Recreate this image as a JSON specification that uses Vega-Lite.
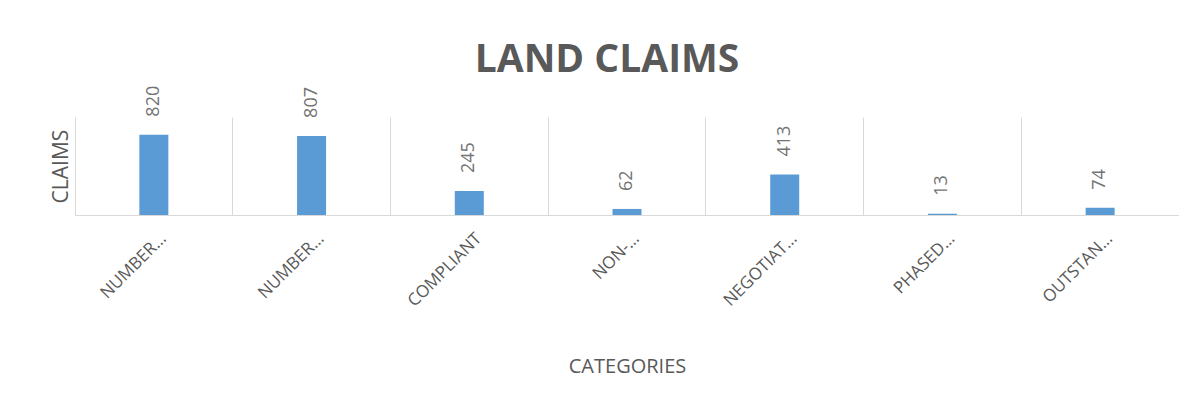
{
  "$schema": "https://vega.github.io/schema/vega-lite/v6.json",
  "width": 1104,
  "height": 98,
  "padding": {"left": 49, "top": 40, "right": 0, "bottom": 20},
  "background": "white",
  "config": {"view": {"stroke": null}, "font": "Open Sans"},
  "title": {"text": "LAND CLAIMS", "fontSize": 39, "font": "Open Sans", "fontWeight": "bold", "color": "#595959", "anchor": "middle", "offset": 6, "dx": -20},
  "data": {"values": [
    {"slot": 1, "category": "NUMBER…", "claims": 820},
    {"slot": 2, "category": "NUMBER…", "claims": 807},
    {"slot": 3, "category": "COMPLIANT", "claims": 245},
    {"slot": 4, "category": "NON-…", "claims": 62},
    {"slot": 5, "category": "NEGOTIAT…", "claims": 413},
    {"slot": 6, "category": "PHASED…", "claims": 13},
    {"slot": 7, "category": "OUTSTAN…", "claims": 74}
  ]},
  "encoding": {
    "x": {
      "field": "slot",
      "type": "ordinal",
      "scale": {"paddingInner": 0, "paddingOuter": 0},
      "axis": {
        "title": "CATEGORIES",
        "titleFontSize": 20,
        "titleFontWeight": "normal",
        "titleColor": "#595959",
        "titlePadding": 47,
        "labelExpr": "['NUMBER…','NUMBER…','COMPLIANT','NON-…','NEGOTIAT…','PHASED…','OUTSTAN…'][datum.value - 1]",
        "labelAngle": -45,
        "labelFontSize": 17,
        "labelColor": "#595959",
        "labelPadding": 15,
        "labelOffset": 4,
        "labelLimit": 300,
        "bandPosition": 0,
        "ticks": false,
        "grid": true,
        "gridColor": "#d9d9d9",
        "domainColor": "#d9d9d9"
      }
    }
  },
  "layer": [
    {
      "mark": {"type": "bar", "width": 29, "color": "#5B9BD5"},
      "encoding": {
        "y": {
          "field": "claims",
          "type": "quantitative",
          "scale": {"domain": [0, 1000]},
          "axis": {"title": "CLAIMS", "titleFontSize": 21, "titleFontWeight": "normal", "titleColor": "#595959", "titlePadding": 4, "labels": false, "ticks": false, "domain": false, "grid": false}
        }
      }
    },
    {
      "mark": {"type": "text", "angle": 270, "align": "left", "baseline": "middle", "dx": 18, "fontSize": 18, "color": "#737373"},
      "encoding": {
        "y": {
          "field": "claims",
          "type": "quantitative",
          "axis": {"orient": "right", "title": null, "labels": false, "ticks": false, "grid": false, "domain": true, "domainColor": "#d9d9d9"}
        },
        "text": {"field": "claims", "type": "quantitative"}
      }
    }
  ],
  "resolve": {"axis": {"y": "independent"}}
}
